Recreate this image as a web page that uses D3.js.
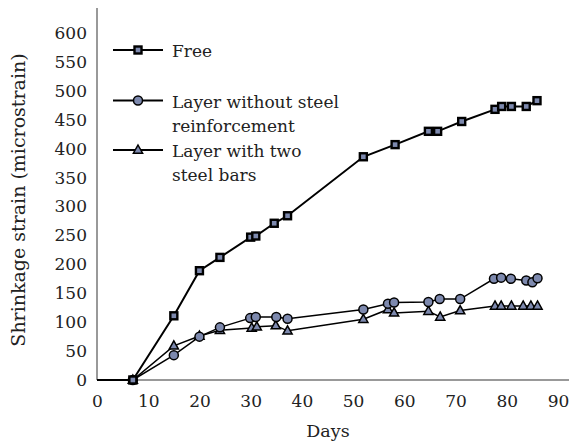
<!DOCTYPE html>
<html>
<head>
<meta charset="utf-8">
<script src="https://cdn.jsdelivr.net/npm/d3@7/dist/d3.min.js"></script>
<style>
body { margin: 0; background: #fff; }
svg text { font-family: "DejaVu Serif", "Liberation Serif", serif; fill: #222; }
</style>
</head>
<body>
<div id="chart"></div>
<script>
// data
var freeDays = [0, 7, 15, 20, 24, 30, 31, 34.6, 37.2, 52, 58.2, 64.7, 66.5, 71.2, 77.7, 79, 80.9, 83.8, 85.9];
var freeVals = [0, 0, 111, 189, 212, 247, 249, 271, 284, 386, 407, 430, 430, 447, 468, 473, 473, 473, 483];

var noSteelDays = [0, 7, 15, 20, 24, 29.9, 31, 35, 37.2, 52, 56.8, 58, 64.7, 66.9, 70.9, 77.5, 78.9, 80.8, 83.8, 85, 86];
var noSteelVals = [0, 0, 43, 75, 91, 107, 109, 109, 106, 122, 132, 134, 135, 140, 140, 175, 177, 175, 172, 169, 176];

var twoBarsDays = [0, 7, 15, 20, 24, 30.2, 31.2, 34.9, 37.2, 52, 56.8, 58, 64.7, 67, 70.9, 77.7, 78.9, 80.9, 83.2, 84.7, 86];
var twoBarsVals = [0, 0, 59, 76, 86, 90, 92, 94, 85, 105, 122, 116, 119, 109, 120, 128, 128, 128, 128, 128, 128];

var xTicks = [0, 10, 20, 30, 40, 50, 60, 70, 80, 90];
var yTicks = [0, 50, 100, 150, 200, 250, 300, 350, 400, 450, 500, 550, 600];

var seriesNames = ["Free", "Layer without steel|reinforcement", "Layer with two|steel bars"];

var W = 569, H = 448;
var margin = {top: 8, right: 0, bottom: 68, left: 97};
var width = 461, height = H - margin.top - margin.bottom;

var x = d3.scaleLinear().domain([0, 90]).range([0, width]);
var y = d3.scaleLinear().domain([0, 600]).range([height, height - 347]);

var svg = d3.select("#chart").append("svg")
    .attr("width", W)
    .attr("height", H)
  .append("g")
    .attr("transform", "translate(" + margin.left + "," + margin.top + ")");

// axes
var xAxis = svg.append("g")
    .attr("transform", "translate(0," + height + ")")
    .call(d3.axisBottom(x).tickValues(xTicks).tickSize(0).tickPadding(15));
xAxis.select(".domain").remove();
xAxis.selectAll("text").style("font-size", "17px").style("font-family", "DejaVu Serif");

var yAxis = svg.append("g")
    .call(d3.axisLeft(y).tickValues(yTicks).tickSize(0).tickPadding(10));
yAxis.select(".domain").remove();
yAxis.selectAll("text").style("font-size", "17px").style("font-family", "DejaVu Serif");

svg.append("line")
    .attr("x1", 0).attr("x2", 0).attr("y1", 0).attr("y2", height)
    .attr("stroke", "#777").attr("stroke-width", 1.5);
svg.append("line")
    .attr("x1", 0).attr("x2", W - margin.left).attr("y1", height).attr("y2", height)
    .attr("stroke", "#777").attr("stroke-width", 1.5);

// axis titles
svg.append("text")
    .attr("x", x(45.1)).attr("y", height + 57)
    .attr("text-anchor", "middle")
    .style("font-size", "17.5px")
    .text("Days");
svg.append("text")
    .attr("transform", "translate(-72,192) rotate(-90)")
    .attr("text-anchor", "middle")
    .style("font-size", "19px")
    .text("Shrinkage strain (microstrain)");

var fillCol = "#7d89ae";
var line = d3.line().x(function(d) { return x(d[0]); }).y(function(d) { return y(d[1]); });

function drawMarker(g, kind) {
  if (kind == 0) {
    g.append("rect").attr("x", -3.5).attr("y", -3.5).attr("width", 7).attr("height", 7)
      .attr("fill", fillCol).attr("stroke", "#000").attr("stroke-width", 2.4);
  } else if (kind == 1) {
    g.append("circle").attr("r", 4.5)
      .attr("fill", fillCol).attr("stroke", "#000").attr("stroke-width", 1.5);
  } else {
    g.append("path").attr("d", "M0,-5L4.6,3.2L-4.6,3.2Z")
      .attr("fill", fillCol).attr("stroke", "#000").attr("stroke-width", 1.5);
  }
}

var series = [
  {days: twoBarsDays, vals: twoBarsVals, kind: 2, w: 1.5},
  {days: noSteelDays, vals: noSteelVals, kind: 1, w: 1.5},
  {days: freeDays, vals: freeVals, kind: 0, w: 2}
];

series.forEach(function(s) {
  var pts = s.days.map(function(d, i) { return [d, s.vals[i]]; });
  svg.append("path")
      .datum(pts)
      .attr("fill", "none")
      .attr("stroke", "#000")
      .attr("stroke-width", s.w)
      .attr("d", line);
  svg.selectAll(".m" + s.kind)
      .data(pts.slice(1))
    .enter().append("g")
      .attr("class", "m" + s.kind)
      .attr("transform", function(d) { return "translate(" + x(d[0]) + "," + y(d[1]) + ")"; })
      .each(function() { drawMarker(d3.select(this), s.kind); });
});

// legend
var legendY = [42, 92.5, 142];
seriesNames.forEach(function(name, i) {
  var g = svg.append("g").attr("transform", "translate(16," + legendY[i] + ")");
  g.append("line").attr("x1", 0).attr("x2", 50).attr("y1", 0).attr("y2", 0)
    .attr("stroke", "#000").attr("stroke-width", 2.2);
  var m = g.append("g").attr("transform", "translate(25,0)");
  drawMarker(m, i);
  name.split("|").forEach(function(t, j) {
    g.append("text").attr("x", 59).attr("y", 7 + j * 24)
      .style("font-size", "17px")
      .text(t);
  });
});
</script>
</body>
</html>
